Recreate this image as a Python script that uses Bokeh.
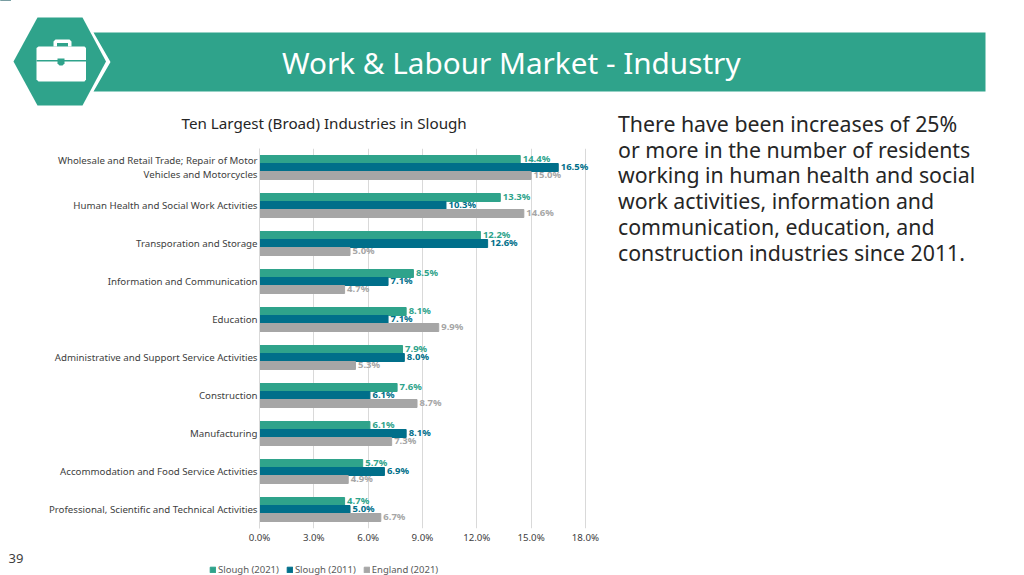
from bokeh.plotting import figure
from bokeh.models import (ColumnDataSource, FactorRange, FixedTicker, PrintfTickFormatter,
                          Legend, LegendItem, Range1d)
from bokeh.transform import dodge
from bokeh.core.properties import value
from bokeh.embed import file_html
from bokeh.resources import INLINE

categories = [
    "Wholesale and Retail Trade; Repair of Motor\nVehicles and Motorcycles",
    "Human Health and Social Work Activities",
    "Transporation and Storage",
    "Information and Communication",
    "Education",
    "Administrative and Support Service Activities",
    "Construction",
    "Manufacturing",
    "Accommodation and Food Service Activities",
    "Professional, Scientific and Technical Activities",
]
slough_2021 = [14.4, 13.3, 12.2, 8.5, 8.1, 7.9, 7.6, 6.1, 5.7, 4.7]
slough_2011 = [16.5, 10.3, 12.6, 7.1, 7.1, 8.0, 6.1, 8.1, 6.9, 5.0]
england_2021 = [15.0, 14.6, 5.0, 4.7, 9.9, 5.3, 8.7, 7.3, 4.9, 6.7]
x_ticks = [0, 3, 6, 9, 12, 15, 18]
body_lines = [
    "There have been increases of 25%",
    "or more in the number of residents",
    "working in human health and social",
    "work activities, information and",
    "communication, education, and",
    "construction industries since 2011.",
]

GREEN, BLUE, GREY = "#2fa38b", "#006f8a", "#a6a6a6"
FONT = "Noto Sans"
W, H = 1024, 575
FL, FT, FB = 259, 148, 528   # frame edges in page pixels
FW = 344                     # 19 units wide, so labels past 18% are not clipped

# ---- page furniture: a full-page figure whose data units are page pixels
bg = figure(width=W, height=H, output_backend="svg", toolbar_location=None,
            x_range=Range1d(0, W), y_range=Range1d(H, 0), min_border=0,
            outline_line_color=None, x_axis_location=None, y_axis_location=None)
bg.grid.visible = False


def label(px, py, text, size, color="#262626", align="left"):
    bg.text(x=[px], y=[py], text=[text], text_font=value(FONT), text_font_size=size,
            text_color=color, text_align=align, text_baseline="middle")


def poly(pts, color):
    bg.patch([a for a, _ in pts], [b for _, b in pts], fill_color=color, line_color=None)


poly([(93, 32), (985, 32), (985, 91), (93, 91), (110, 61.5)], GREEN)
poly([(13, 61), (37, 17), (82, 17), (105.5, 61), (82, 105), (37, 105)], GREEN)
# briefcase
poly([(53, 46), (53, 41), (55, 39), (69, 39), (71, 41), (71, 46), (67.5, 46), (67.5, 42.5),
      (56.5, 42.5), (56.5, 46)], "white")
poly([(38, 46), (84, 46), (85.5, 47.5), (85.5, 79), (84, 81), (38, 81), (36, 79), (36, 47.5)], "white")
poly([(36, 59.5), (85.5, 59.5), (85.5, 61), (36, 61)], GREEN)
poly([(57, 58), (64, 58), (64, 63), (62, 65), (59, 65), (57, 63)], GREEN)

label(281.5, 61.5, "Work & Labour Market - Industry", "29.7px", "white")
label(181, 122.5, "Ten Largest (Broad) Industries in Slough", "15.2px")
for i, line in enumerate(body_lines):
    label(617.5, 123 + i * 25.7, line, "21.3px")
label(8, 558, "39", "13px", "#404040")

# ---- the chart, laid over it
p = figure(width=W, height=H, output_backend="svg", toolbar_location=None,
           x_range=(0, 19), y_range=FactorRange(factors=categories[::-1]),
           min_border_left=FL, min_border_right=W - FL - FW, min_border_top=FT, min_border_bottom=H - FB,
           outline_line_color=None, background_fill_color=None, border_fill_color=None)
p.styles = {"position": "absolute", "left": "0px", "top": "0px"}

src = ColumnDataSource(dict(cat=categories, a=slough_2021, b=slough_2011, c=england_2021,
                            la=[f"{v:.1f}%" for v in slough_2021],
                            lb=[f"{v:.1f}%" for v in slough_2011],
                            lc=[f"{v:.1f}%" for v in england_2021]))
BAR = 8 / 38
items = []
for col, lab, color, off, name in [
    ("a", "la", GREEN, BAR, "Slough (2021)"),
    ("b", "lb", BLUE, 0, "Slough (2011)"),
    ("c", "lc", GREY, -BAR, "England (2021)"),
]:
    y = dodge("cat", off, range=p.y_range)
    p.hbar(y=y, right=col, left=0, height=BAR, color=color, source=src)
    p.text(x=col, y=y, text=lab, source=src, x_offset=2.5, y_offset=-1, text_align="left",
           text_baseline="middle", text_color=color, text_font=value(FONT), text_font_size="9.5px",
           text_font_style="bold")
    # the legend lives on the full-page figure, whose frame does not clip it;
    # its key renderer sits off the page and only supplies the swatch
    key = bg.hbar(y=[-50], right=[10], height=[7], left=0, color=color)
    items.append(LegendItem(label=name, renderers=[key]))

for ax in (p.xaxis[0], p.yaxis[0]):
    ax.major_tick_in = 0
    ax.major_tick_out = 0
    ax.minor_tick_in = 0
    ax.minor_tick_out = 0
    ax.major_tick_line_color = None
    ax.minor_tick_line_color = None
    ax.major_label_text_font = FONT
    ax.major_label_text_font_size = "9.7px"
    ax.major_label_text_color = "#404040"
p.xaxis.ticker = FixedTicker(ticks=x_ticks)
p.xaxis.formatter = PrintfTickFormatter(format="%.1f%%")
p.xaxis.axis_line_color = None
p.xaxis.major_label_standoff = 2
p.yaxis.axis_line_color = "#d9d9d9"
p.yaxis.major_label_text_line_height = 1.1
p.yaxis.major_label_standoff = 2
first_lines = categories[0].split("\n")
p.yaxis.major_label_overrides = {categories[0]: first_lines[0] + "\n" + first_lines[1] + "\u00a0" * 17}
p.ygrid.grid_line_color = None
p.xgrid.grid_line_color = "#d9d9d9"

legend = Legend(items=items, orientation="horizontal", location=(209, -1),
                label_text_font=FONT, label_text_font_size="9.5px", label_text_color="#595959",
                glyph_width=7, glyph_height=7, spacing=7, label_standoff=2, padding=0, margin=0,
                border_line_color=None, background_fill_alpha=0)
bg.add_layout(legend, "center")

open("out.html", "w").write(file_html([bg, p], INLINE))
